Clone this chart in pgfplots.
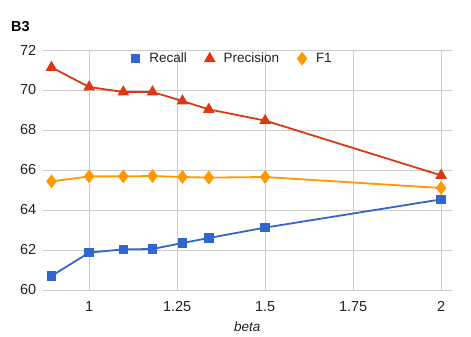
\documentclass[border=0pt]{standalone}
\usepackage{pgfplots}
\pgfplotsset{compat=1.18}
\usepackage{fontspec}
\setmainfont{Liberation Sans}
\definecolor{cRec}{HTML}{3366CC}
\definecolor{cPre}{HTML}{DC3912}
\definecolor{cF1}{HTML}{FF9900}
\definecolor{cGrid}{HTML}{CCCCCC}
\definecolor{cTxt}{HTML}{222222}
\begin{document}
\begin{tikzpicture}
\useasboundingbox (-42.7pt,-47pt) rectangle (428.3pt,290pt);
\begin{axis}[
    scale only axis,
    width=409pt, height=240pt,
    xmin=0.868, xmax=2.03,
    ymin=60, ymax=72,
    xtick={1,1.25,1.5,1.75,2},
    xticklabels={1,1.25,1.5,1.75,2},
    ytick={60,62,...,72},
    axis line style={draw=none},
    major tick length=0pt,
    grid=major,
    grid style={cGrid, line width=0.8pt},
    tick label style={font=\fontsize{14.5}{16}\selectfont, text=cTxt},
    yticklabel style={xshift=-3pt},
    xticklabel style={yshift=-8pt},
    /pgf/number format/assume math mode=true,
    xlabel={\itshape beta},
    xlabel style={font=\fontsize{13.5}{15}\selectfont, text=cTxt, yshift=-3pt},
    legend columns=-1,
    legend style={draw=none, fill=none, at={(0.462,0.964)}, anchor=center,
        font=\fontsize{13.5}{15}\selectfont, text=cTxt,
        /tikz/every even column/.append style={column sep=15pt}},
    legend image code/.code={\path (-5pt,0) (11pt,0); \draw[#1, draw=none] plot coordinates {(0pt,0pt)};},
]
\addplot[cRec, line width=1.8pt, mark=square*, mark size=3.8pt] coordinates {
    (0.893,60.70) (1.0,61.87) (1.097,62.03) (1.18,62.05) (1.265,62.35) (1.34,62.60) (1.5,63.12) (2.0,64.53)
};
\addlegendentry{Recall}
\addplot[cPre, line width=1.8pt, mark=triangle*, mark size=5pt] coordinates {
    (0.893,71.13) (1.0,70.15) (1.097,69.90) (1.18,69.90) (1.265,69.45) (1.34,69.03) (1.5,68.47) (2.0,65.73)
};
\addlegendentry{Precision}
\addplot[cF1, line width=1.8pt, mark=diamond*, mark size=5.5pt] coordinates {
    (0.893,65.43) (1.0,65.68) (1.097,65.68) (1.18,65.70) (1.265,65.65) (1.34,65.62) (1.5,65.65) (2.0,65.10)
};
\addlegendentry{F1}
\end{axis}
\node[anchor=west, font=\bfseries\fontsize{14.5}{16}\selectfont] at (-35pt,263pt) {B3};
\end{tikzpicture}
\end{document}
